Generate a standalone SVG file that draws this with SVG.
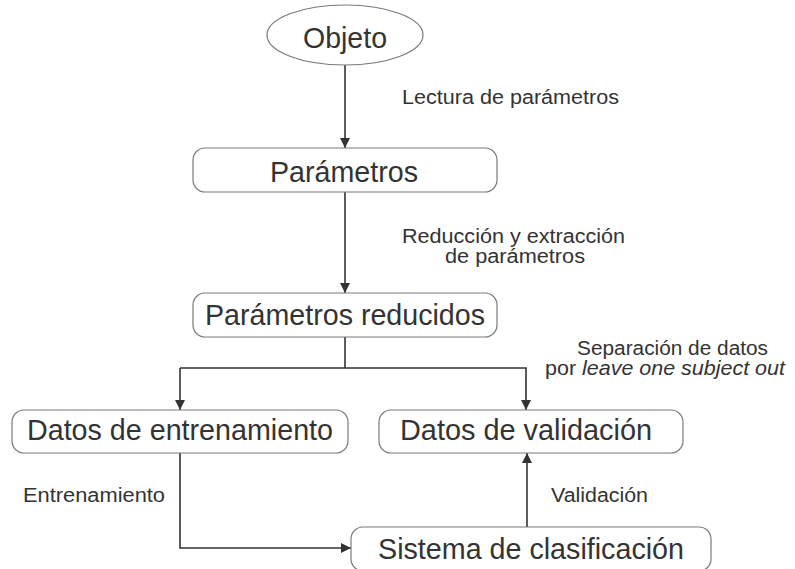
<svg xmlns="http://www.w3.org/2000/svg" width="795" height="569" viewBox="0 0 795 569">
<style>
.node{fill:#fff;stroke:#7a7a7a;stroke-width:1.2}
.nt{font-family:"Liberation Sans",Arial,sans-serif;font-size:30px;fill:#333;text-anchor:middle}
.lb{font-family:"Liberation Sans",Arial,sans-serif;font-size:20px;fill:#333}
.c{fill:none;stroke:#333;stroke-width:1.6}
</style>
<defs>
<marker id="ah" viewBox="0 0 10 10" refX="10" refY="5" markerWidth="10" markerHeight="10" markerUnits="userSpaceOnUse" orient="auto">
<path d="M0,0 L10,5 L0,10 z" fill="#333"/>
</marker>
</defs>
<rect width="795" height="569" fill="#fff"/>
<g id="connectors">
<line class="c" x1="345" y1="65" x2="345" y2="148" marker-end="url(#ah)"/>
<line class="c" x1="345" y1="192" x2="345" y2="293" marker-end="url(#ah)"/>
<polyline class="c" points="345,337 345,368"/>
<polyline class="c" points="180,368 526,368 526,410" marker-end="url(#ah)"/>
<line class="c" x1="180" y1="368" x2="180" y2="410" marker-end="url(#ah)"/>
<polyline class="c" points="180,453 180,548 351,548" marker-end="url(#ah)"/>
<line class="c" x1="527" y1="527" x2="527" y2="453" marker-end="url(#ah)"/>
</g>
<g id="objeto">
<ellipse class="node" cx="345" cy="35" rx="78" ry="30"/>
<text class="nt" x="345" y="48" textLength="84" lengthAdjust="spacingAndGlyphs">Objeto</text>
</g>
<g id="parametros">
<rect class="node" x="193" y="148" width="304" height="44" rx="12"/>
<text class="nt" x="344" y="182" textLength="148" lengthAdjust="spacingAndGlyphs">Parámetros</text>
</g>
<g id="parametros-reducidos">
<rect class="node" x="193" y="293" width="304" height="44" rx="12"/>
<text class="nt" x="345" y="325" textLength="280" lengthAdjust="spacingAndGlyphs">Parámetros reducidos</text>
</g>
<g id="datos-entrenamiento">
<rect class="node" x="12" y="410" width="336" height="43" rx="12"/>
<text class="nt" x="180" y="440" textLength="306" lengthAdjust="spacingAndGlyphs">Datos de entrenamiento</text>
</g>
<g id="datos-validacion">
<rect class="node" x="379" y="410" width="304" height="43" rx="12"/>
<text class="nt" x="526" y="440" textLength="252" lengthAdjust="spacingAndGlyphs">Datos de validación</text>
</g>
<g id="sistema-clasificacion">
<rect class="node" x="351" y="527" width="360" height="44" rx="12"/>
<text class="nt" x="531" y="559" textLength="306" lengthAdjust="spacingAndGlyphs">Sistema de clasificación</text>
</g>
<g id="labels">
<text class="lb" x="402" y="104" textLength="217" lengthAdjust="spacingAndGlyphs">Lectura de parámetros</text>
<text class="lb" x="402" y="243" textLength="223" lengthAdjust="spacingAndGlyphs">Reducción y extracción</text>
<text class="lb" x="445" y="263" textLength="140" lengthAdjust="spacingAndGlyphs">de parámetros</text>
<text class="lb" x="577" y="355" textLength="191" lengthAdjust="spacingAndGlyphs">Separación de datos</text>
<text class="lb" x="545" y="375" textLength="240" lengthAdjust="spacingAndGlyphs">por <tspan font-style="italic">leave one subject out</tspan></text>
<text class="lb" x="23" y="502" textLength="142" lengthAdjust="spacingAndGlyphs">Entrenamiento</text>
<text class="lb" x="551" y="502" textLength="97" lengthAdjust="spacingAndGlyphs">Validación</text>
</g>
</svg>
